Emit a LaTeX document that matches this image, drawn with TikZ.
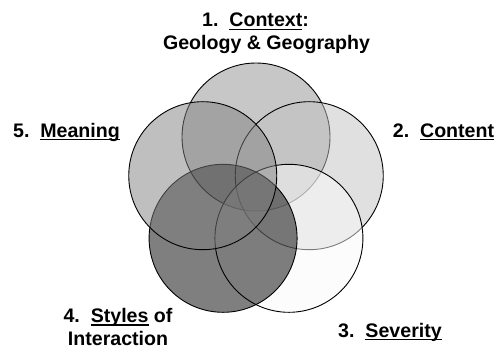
\documentclass[tikz,border=0pt]{standalone}
\usepackage{fontspec}
\setmainfont{Liberation Sans}[BoldFont={Liberation Sans Bold}]
\usepackage{xcolor}
\usepackage{tikz}
\usetikzlibrary{positioning}
\definecolor{contextgray}{gray}{0.56}
\definecolor{contentgray}{gray}{0.76}
\definecolor{severitygray}{gray}{0.98}
\definecolor{stylesgray}{gray}{0.0}
\definecolor{meaninggray}{gray}{0.50}
\newcommand{\ulw}[1]{\leavevmode\setbox0\hbox{#1}\rlap{\rule[-3.4pt]{\wd0}{1.5pt}}\box0\relax}
\tikzset{
  ring/.style={circle, minimum size=148pt, inner sep=0pt, draw=black,
    line width=0.9pt, fill opacity=0.5},
  lbl/.style={align=center, text=black, inner sep=0pt,
    font=\bfseries\fontsize{19.6}{23}\selectfont}
}
\begin{document}
\begin{tikzpicture}[x=1pt, y=1pt]
\useasboundingbox (0,0) rectangle (503,349);
\coordinate (mid) at (256,156);
% the five rings
\node (context)  [ring, fill=contextgray]  at ([shift={(90:56)}]mid)   {};
\node (content)  [ring, fill=contentgray]  at ([shift={(18:56)}]mid)   {};
\node (severity) [ring, fill=severitygray] at ([shift={(-54:56)}]mid)  {};
\node (styles)   [ring, fill=stylesgray]   at ([shift={(-126:56)}]mid) {};
\node (meaning)  [ring, fill=meaninggray]  at ([shift={(162:56)}]mid)  {};
% labels
\node (contextlbl)  [lbl] at (266.5,315.3)
  {1.~~\ulw{Context}:\hspace*{22pt}\\Geology \& Geography};
\node (contentlbl)  [lbl, anchor=base] at (443.5,212) {2.~~\ulw{Content}};
\node (severitylbl) [lbl, anchor=base] at (390,12)    {3.~~\ulw{Severity}};
\node (styleslbl)   [lbl] at (118,22) {4.~~\ulw{Styles} of\\Interaction};
\node (meaninglbl)  [lbl, anchor=base] at (66.5,212)  {5.~~\ulw{Meaning}};
\end{tikzpicture}
\end{document}
